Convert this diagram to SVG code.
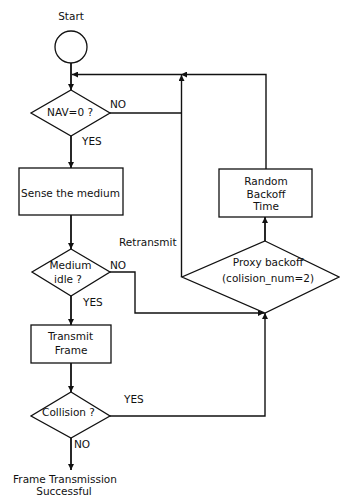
<svg xmlns="http://www.w3.org/2000/svg" width="340" height="498" viewBox="0 0 340 498">
<defs>
<marker id="ah" viewBox="0 0 10 10" refX="10" refY="5" markerWidth="7" markerHeight="6" markerUnits="userSpaceOnUse" orient="auto">
<path d="M0,0 L10,5 L0,10 Z" fill="#111"/>
</marker>
</defs>
<style>
.shape{fill:#fff;stroke:#111;stroke-width:1.3}
.ln{fill:none;stroke:#111;stroke-width:1.4}
.main{fill:none;stroke:#111;stroke-width:1.8}
text{font-family:"DejaVu Sans","Liberation Sans",sans-serif;font-size:10.5px;fill:#111}
.c{text-anchor:middle}
</style>
<rect width="340" height="498" fill="#fff"/>
<g id="connectors">
<line class="main" x1="71" y1="63" x2="71" y2="90" marker-end="url(#ah)"/>
<line class="main" x1="71" y1="136" x2="71" y2="168" marker-end="url(#ah)"/>
<line class="main" x1="71" y1="215" x2="71" y2="249" marker-end="url(#ah)"/>
<line class="main" x1="71" y1="296" x2="71" y2="325" marker-end="url(#ah)"/>
<line class="main" x1="71" y1="363" x2="71" y2="392" marker-end="url(#ah)"/>
<line class="main" x1="71" y1="438" x2="71" y2="470" marker-end="url(#ah)"/>
<line class="ln" x1="181" y1="74.5" x2="72" y2="74.5" marker-end="url(#ah)"/>
<polyline class="ln" points="266,169 266,74.5 181,74.5" marker-end="url(#ah)"/>
<line class="ln" x1="181.5" y1="277" x2="181.5" y2="75" marker-end="url(#ah)"/>
<line class="ln" x1="110" y1="113" x2="181.5" y2="113"/>
<polyline class="ln" points="110,272 135,272 135,313 264,313" marker-end="url(#ah)"/>
<polyline class="ln" points="110,416 265,416 265,313" marker-end="url(#ah)"/>
<line class="main" x1="265" y1="241" x2="265" y2="217" marker-end="url(#ah)"/>
</g>
<g id="start">
<circle class="shape" cx="71" cy="47" r="16"/>
<text class="c" x="71" y="20">Start</text>
</g>
<g id="nav">
<polygon class="shape" points="71,90 110,113 71,136 31,113"/>
<text class="c" x="70" y="115.5">NAV=0 ?</text>
<text x="110" y="108">NO</text>
<text x="82" y="145">YES</text>
</g>
<g id="sense">
<rect class="shape" x="19" y="168" width="104" height="47"/>
<text class="c" x="70.5" y="197">Sense the medium</text>
</g>
<g id="idle">
<polygon class="shape" points="71,249 110,272 71,296 32,272"/>
<text class="c" x="70.5" y="269">Medium</text>
<text class="c" x="68" y="283">idle ?</text>
<text x="110" y="269">NO</text>
<text x="83" y="306">YES</text>
</g>
<g id="transmit">
<rect class="shape" x="31" y="325" width="80" height="38"/>
<text class="c" x="70.5" y="340">Transmit</text>
<text class="c" x="71" y="354">Frame</text>
</g>
<g id="collision">
<polygon class="shape" points="71,392 110,416 71,438 31,416"/>
<text class="c" x="68.5" y="416">Collision ?</text>
<text x="124" y="403">YES</text>
<text x="74" y="448">NO</text>
</g>
<g id="success">
<text class="c" x="65" y="483">Frame Transmission</text>
<text class="c" x="64" y="495">Successful</text>
</g>
<g id="retransmit">
<text x="119" y="246">Retransmit</text>
</g>
<g id="proxy">
<polygon class="shape" points="265,241 339,277 265,313 182,277"/>
<text class="c" x="268" y="266">Proxy backoff</text>
<text class="c" x="268" y="282">(colision_num=2)</text>
</g>
<g id="random">
<rect class="shape" x="219" y="169" width="93" height="48"/>
<text class="c" x="266" y="185">Random</text>
<text class="c" x="266" y="198">Backoff</text>
<text class="c" x="266" y="210">Time</text>
</g>
</svg>
